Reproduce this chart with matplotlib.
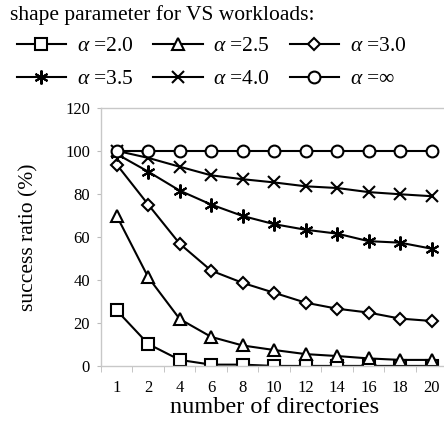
import matplotlib
matplotlib.use("Agg")
import matplotlib.pyplot as plt
import numpy as np

plt.rcParams['font.family'] = ['Liberation Serif', 'DejaVu Serif']
plt.rcParams['mathtext.fontset'] = 'custom'
plt.rcParams['mathtext.rm'] = 'Liberation Serif'
plt.rcParams['mathtext.it'] = 'Liberation Serif:italic'

# data
directories = ['1', '2', '4', '6', '8', '10', '12', '14', '16', '18', '20']
alpha_2_0 = [25.8, 10.2, 2.8, 0.6, 0.6, 0, 0, 0, 0, 0, 0]
alpha_2_5 = [69.7, 41.2, 21.8, 13.5, 9.5, 7.4, 5.5, 4.6, 3.5, 2.8, 2.8]
alpha_3_0 = [93.6, 75.0, 56.8, 44.3, 38.6, 34.0, 29.4, 26.6, 24.8, 22.0, 20.9]
alpha_3_5 = [98.5, 90.3, 81.5, 75.0, 69.7, 65.9, 63.3, 61.5, 58.0, 57.3, 54.5]
alpha_4_0 = [100, 96.7, 92.6, 88.6, 86.8, 85.3, 83.5, 82.7, 80.8, 79.8, 78.9]
alpha_inf = [100] * 11

series = [
    (alpha_2_0, 's', r'$\alpha$ =2.0'),
    (alpha_2_5, '^', r'$\alpha$ =2.5'),
    (alpha_3_0, 'D', r'$\alpha$ =3.0'),
    (alpha_3_5, (6, 2, 0), r'$\alpha$ =3.5'),
    (alpha_4_0, 'x', r'$\alpha$ =4.0'),
    (alpha_inf, 'o', r'$\alpha$ =$\infty$'),
]
sizes = {'s': 8, '^': 8.5, 'D': 6, 'x': 9, 'o': 8.5}

fig = plt.figure(figsize=(4.44, 4.26), dpi=100)
ax = fig.add_axes([0.2275, 0.141, 0.78, 0.606])

x = np.arange(len(directories))
handles = []
for vals, mk, lab in series:
    ms = sizes.get(mk, 10)
    h, = ax.plot(x, vals, color='black', lw=1.5, marker=mk, markersize=ms,
                 markerfacecolor='white', markeredgecolor='black',
                 markeredgewidth=1.5, label=lab)
    handles.append(h)

ax.set_xlim(-0.5, 10.5)
ax.set_ylim(0, 120)
ax.set_yticks([0, 20, 40, 60, 80, 100, 120])
ax.set_xticks(x)
ax.set_xticklabels(directories, fontsize=12)
ax.set_xticks(np.arange(-0.5, 10.6, 1), minor=True)
ax.tick_params(axis='x', which='major', length=0, pad=10)
ax.tick_params(axis='x', which='minor', length=4, color='#bbbbbb', direction='out')
ax.tick_params(axis='y', length=3, color='#bbbbbb', pad=5, labelsize=12)
for s in ax.spines.values():
    s.set_color('#c8c8c8')
    s.set_linewidth(1)
ax.spines['right'].set_visible(False)

ax.set_xlabel('number of directories', fontsize=17.5, labelpad=1)
ax.set_ylabel('success ratio (%)', fontsize=15.5, labelpad=19)

fig.text(0.022, 0.965, 'shape parameter for VS workloads:', fontsize=15.5, va='center')
# row-major order for the 3-column legend
order = [0, 3, 1, 4, 2, 5]
fig.legend(handles=[handles[i] for i in order], loc='upper left',
           bbox_to_anchor=(0.018, 0.935), ncol=3, frameon=False, fontsize=15.5,
           handlelength=2.3, columnspacing=0.9, handletextpad=0.5,
           labelspacing=0.6, borderaxespad=0)

fig.savefig('out.png', dpi=100)
